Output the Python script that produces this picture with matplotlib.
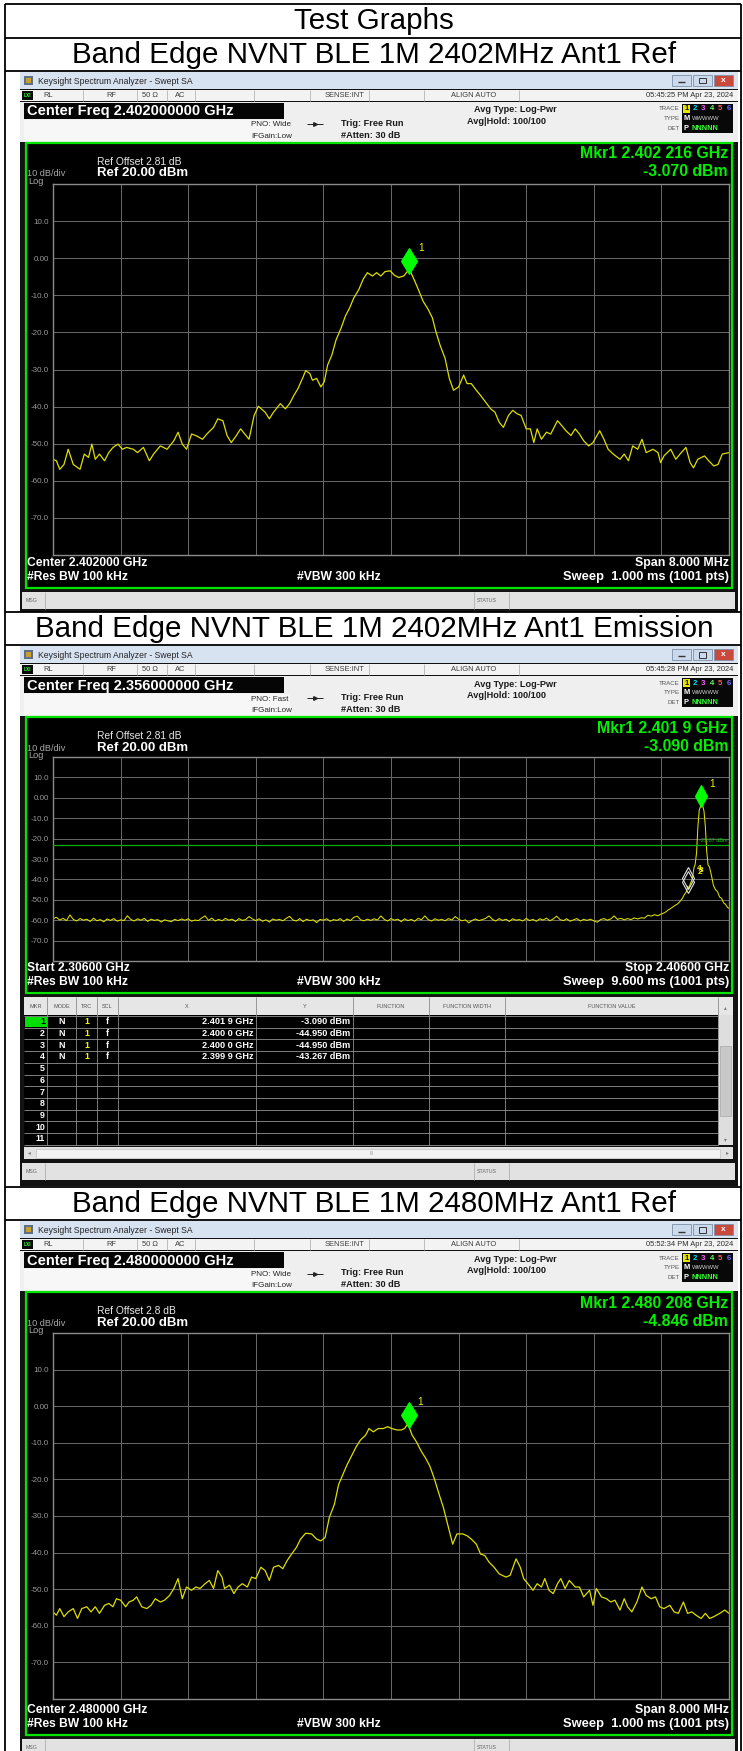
import numpy as np
import matplotlib
matplotlib.use("Agg")
import matplotlib.pyplot as plt
from matplotlib.patches import Rectangle
from matplotlib.transforms import offset_copy

plt.rcParams['font.family'] = ['Liberation Sans', 'DejaVu Sans']

# ---------------------------------------------------------------- data
table_title = "Test Graphs"
panel_titles = ["Band Edge NVNT BLE 1M 2402MHz Ant1 Ref",
                "Band Edge NVNT BLE 1M 2402MHz Ant1 Emission",
                "Band Edge NVNT BLE 1M 2480MHz Ant1 Ref"]

y_tick_values = [10, 0, -10, -20, -30, -40, -50, -60, -70]
y_tick_labels = ["10.0", "0.00", "-10.0", "-20.0", "-30.0", "-40.0", "-50.0", "-60.0", "-70.0"]
ref_level_dbm = 20.0
bottom_level_dbm = -80.0

timestamps = ["05:45:25 PM Apr 23, 2024", "05:45:28 PM Apr 23, 2024", "05:52:34 PM Apr 23, 2024"]
center_freq_labels = ["Center Freq 2.402000000 GHz", "Center Freq 2.356000000 GHz",
                      "Center Freq 2.480000000 GHz"]
pno_labels = ["PNO: Wide", "PNO: Fast", "PNO: Wide"]
ref_offset_labels = ["Ref Offset 2.81 dB", "Ref Offset 2.81 dB", "Ref Offset 2.8 dB"]
mkr_freq_labels = ["Mkr1 2.402 216 GHz", "Mkr1 2.401 9 GHz", "Mkr1 2.480 208 GHz"]
mkr_level_labels = ["-3.070 dBm", "-3.090 dBm", "-4.846 dBm"]
bottom_left_labels = ["Center 2.402000 GHz", "Start 2.30600 GHz", "Center 2.480000 GHz"]
bottom_right_labels = ["Span 8.000 MHz", "Stop 2.40600 GHz", "Span 8.000 MHz"]
sweep_labels = ["Sweep  1.000 ms (1001 pts)", "Sweep  9.600 ms (1001 pts)", "Sweep  1.000 ms (1001 pts)"]

# panel 1 : 2402 MHz reference sweep
p1_start_mhz, p1_stop_mhz = 2398.0, 2406.0
p1_freq_offset_mhz = [
    0.00, 0.04, 0.08, 0.13, 0.18, 0.24, 0.32, 0.37, 0.42, 0.46,
    0.50, 0.55, 0.61, 0.66, 0.71, 0.77, 0.82, 0.87, 0.95, 1.00,
    1.07, 1.14, 1.19, 1.27, 1.35, 1.43, 1.48, 1.53, 1.58, 1.64,
    1.69, 1.77, 1.82, 1.90, 1.95, 2.01, 2.06, 2.11, 2.17, 2.22,
    2.27, 2.32, 2.38, 2.43, 2.51, 2.56, 2.61, 2.69, 2.75, 2.80,
    2.85, 2.90, 2.96, 2.99, 3.04, 3.07, 3.12, 3.17, 3.21, 3.25,
    3.30, 3.35, 3.41, 3.46, 3.51, 3.56, 3.62, 3.67, 3.72, 3.78,
    3.83, 3.88, 3.93, 3.99, 4.04, 4.09, 4.15, 4.20, 4.22, 4.28,
    4.33, 4.38, 4.44, 4.49, 4.53, 4.58, 4.64, 4.69, 4.74, 4.80,
    4.86, 4.90, 4.95, 5.01, 5.06, 5.12, 5.18, 5.23, 5.28, 5.33,
    5.39, 5.44, 5.49, 5.54, 5.60, 5.65, 5.69, 5.73, 5.78, 5.84,
    5.89, 5.97, 6.02, 6.07, 6.13, 6.18, 6.23, 6.28, 6.34, 6.39,
    6.47, 6.52, 6.57, 6.63, 6.71, 6.76, 6.81, 6.86, 6.92, 6.97,
    7.02, 7.10, 7.16, 7.19, 7.23, 7.31, 7.37, 7.42, 7.49, 7.54,
    7.58, 7.63, 7.71, 7.76, 7.82, 7.87, 7.92, 8.00]
p1_level_dbm = [
    -54.2, -54.6, -56.9, -55.6, -51.5, -55.6, -56.9, -52.8, -53.7, -50.1,
    -54.2, -52.8, -54.6, -52.4, -51.0, -50.1, -51.5, -51.0, -51.5, -52.4,
    -51.0, -54.6, -52.8, -50.6, -51.5, -49.2, -46.9, -50.1, -51.5, -47.4,
    -47.8, -48.8, -47.4, -45.6, -43.3, -43.8, -47.8, -49.7, -47.8, -46.0,
    -47.4, -48.8, -42.4, -39.9, -41.5, -43.3, -41.5, -39.2, -40.6, -39.2,
    -37.0, -35.1, -32.0, -30.3, -31.1, -32.9, -32.4, -34.7, -33.3, -28.8,
    -26.1, -22.0, -18.8, -15.6, -13.4, -10.7, -8.4, -5.7, -3.9, -4.8,
    -3.9, -4.8, -3.6, -3.4, -4.6, -5.2, -4.8, -3.4, -3.1, -6.1,
    -8.8, -11.6, -13.8, -16.1, -19.7, -23.4, -27.0, -32.4, -35.6, -34.7,
    -31.5, -33.8, -33.8, -35.6, -37.0, -38.8, -40.6, -41.5, -44.2, -45.6,
    -42.4, -41.0, -41.9, -42.4, -46.0, -46.0, -49.7, -46.0, -48.8, -46.9,
    -47.4, -43.8, -45.1, -46.5, -47.8, -46.0, -47.4, -49.2, -50.6, -49.7,
    -46.5, -48.8, -51.5, -52.8, -54.2, -52.8, -54.6, -50.6, -51.5, -48.8,
    -52.4, -51.5, -52.4, -55.1, -53.3, -51.5, -54.2, -52.8, -51.0, -55.1,
    -56.5, -54.2, -53.3, -54.6, -56.0, -55.6, -52.8, -52.4]
p1_marker_mhz = 2402.216
p1_marker_dbm = -3.070

# panel 2 : emission sweep 2306 - 2406 MHz
p2_start_mhz, p2_stop_mhz = 2306.0, 2406.0
p2_floor_freq_mhz = [
    2306.0, 2306.5, 2307.0, 2307.5, 2308.0, 2308.5, 2309.0, 2309.5, 2310.0, 2310.5,
    2311.0, 2311.5, 2312.0, 2312.5, 2313.0, 2313.5, 2314.0, 2314.5, 2315.0, 2315.5,
    2316.0, 2316.5, 2317.0, 2317.5, 2318.0, 2318.5, 2319.0, 2319.5, 2320.0, 2320.5,
    2321.0, 2321.5, 2322.0, 2322.5, 2323.0, 2323.5, 2324.0, 2324.5, 2325.0, 2325.5,
    2326.0, 2326.5, 2327.0, 2327.5, 2328.0, 2328.5, 2329.0, 2329.5, 2330.0, 2330.5,
    2331.0, 2331.5, 2332.0, 2332.5, 2333.0, 2333.5, 2334.0, 2334.5, 2335.0, 2335.5,
    2336.0, 2336.5, 2337.0, 2337.5, 2338.0, 2338.5, 2339.0, 2339.5, 2340.0, 2340.5,
    2341.0, 2341.5, 2342.0, 2342.5, 2343.0, 2343.5, 2344.0, 2344.5, 2345.0, 2345.5,
    2346.0, 2346.5, 2347.0, 2347.5, 2348.0, 2348.5, 2349.0, 2349.5, 2350.0, 2350.5,
    2351.0, 2351.5, 2352.0, 2352.5, 2353.0, 2353.5, 2354.0, 2354.5, 2355.0, 2355.5,
    2356.0, 2356.5, 2357.0, 2357.5, 2358.0, 2358.5, 2359.0, 2359.5, 2360.0, 2360.5,
    2361.0, 2361.5, 2362.0, 2362.5, 2363.0, 2363.5, 2364.0, 2364.5, 2365.0, 2365.5,
    2366.0, 2366.5, 2367.0, 2367.5, 2368.0, 2368.5, 2369.0, 2369.5, 2370.0, 2370.5,
    2371.0, 2371.5, 2372.0, 2372.5, 2373.0, 2373.5, 2374.0, 2374.5, 2375.0, 2375.5,
    2376.0, 2376.5, 2377.0, 2377.5, 2378.0, 2378.5, 2379.0, 2379.5, 2380.0, 2380.5,
    2381.0, 2381.5, 2382.0, 2382.5, 2383.0, 2383.5, 2384.0, 2384.5, 2385.0, 2385.5,
    2386.0, 2386.5, 2387.0, 2387.5, 2388.0, 2388.5, 2389.0, 2389.5, 2390.0, 2390.5,
    2391.0, 2391.5, 2392.0, 2392.5, 2393.0, 2393.5, 2394.0]
p2_floor_dbm = [
    -59.3, -58.6, -59.9, -59.1, -60.2, -57.4, -59.6, -60.4, -59.2, -60.0,
    -59.5, -60.6, -59.0, -60.3, -59.7, -60.8, -59.4, -60.1, -59.2, -60.5,
    -59.8, -60.2, -57.8, -59.6, -60.4, -59.3, -60.0, -59.1, -60.6, -59.5,
    -60.1, -59.7, -60.9, -59.8, -60.3, -60.7, -59.6, -60.2, -59.4, -60.0,
    -59.3, -60.5, -59.9, -60.2, -58.9, -57.9, -60.1, -59.0, -60.4, -59.6,
    -60.3, -59.1, -60.0, -59.5, -60.6, -59.2, -60.1, -59.7, -58.2, -59.4,
    -60.2, -59.3, -60.5, -59.8, -60.9, -59.4, -60.0, -59.6, -60.3, -59.1,
    -58.1, -59.9, -60.4, -59.2, -60.7, -59.5, -60.2, -59.8, -61.2, -59.6,
    -60.0, -59.3, -60.5, -59.7, -60.1, -59.2, -60.6, -59.4, -60.2, -58.6,
    -58.0, -59.8, -60.3, -59.5, -60.1, -59.3, -59.9, -57.9, -59.6, -60.4,
    -59.2, -60.0, -59.5, -60.7, -59.3, -60.2, -59.6, -60.5, -59.1, -59.8,
    -57.9, -59.7, -60.4, -59.3, -60.0, -59.6, -60.3, -59.2, -59.9, -58.2,
    -59.5, -60.3, -59.8, -61.3, -60.1, -59.4, -60.2, -59.7, -59.1, -57.9,
    -59.6, -60.4, -59.2, -60.1, -59.5, -60.6, -59.3, -60.0, -59.7, -60.4,
    -59.1, -60.2, -59.6, -60.5, -59.3, -59.9, -59.0, -60.3, -59.4, -58.0,
    -59.7, -60.2, -59.3, -60.5, -59.8, -59.2, -60.4, -59.6, -60.1, -59.5,
    -60.3, -61.0, -59.7, -59.2, -60.0, -59.4, -57.9, -59.6, -59.1, -59.8,
    -59.2, -59.7, -58.9, -59.4, -58.8, -59.0, -57.6]
p2_edge_freq_mhz = [
    2394.5, 2395.0, 2395.5, 2396.0, 2396.5, 2397.0, 2397.4, 2397.9, 2398.4, 2398.7,
    2399.1, 2399.4, 2399.7, 2399.9, 2400.0, 2400.3, 2400.6, 2400.8, 2401.0, 2401.2,
    2401.4, 2401.6, 2401.9, 2402.1, 2402.3, 2402.5, 2402.7, 2402.9, 2403.1, 2403.4,
    2403.7, 2404.0, 2404.3, 2404.6, 2404.9, 2405.2, 2405.5, 2405.8, 2406.0]
p2_edge_dbm = [
    -58.0, -57.3, -57.8, -56.9, -56.3, -55.0, -54.2, -53.0, -52.0, -51.0,
    -49.3, -47.4, -46.0, -43.3, -44.95, -42.0, -39.5, -34.5, -32.5, -27.0,
    -14.0, -6.0, -3.09, -3.6, -6.5, -14.0, -26.0, -33.0, -33.8, -38.0,
    -43.0, -45.0, -46.0, -48.6, -49.3, -51.5, -52.3, -53.8, -54.2]
p2_marker_mhz = [2401.9, 2400.0, 2400.0, 2399.9]
p2_marker_dbm = [-3.090, -44.950, -44.950, -43.267]
p2_limit_dbm = -23.07

# panel 3 : 2480 MHz reference sweep
p3_start_mhz, p3_stop_mhz = 2476.0, 2484.0
p3_freq_offset_mhz = [
    0.00, 0.04, 0.08, 0.13, 0.18, 0.24, 0.29, 0.34, 0.40, 0.45,
    0.50, 0.55, 0.61, 0.66, 0.71, 0.75, 0.80, 0.86, 0.90, 0.95,
    0.99, 1.05, 1.11, 1.16, 1.21, 1.27, 1.32, 1.38, 1.43, 1.48,
    1.53, 1.58, 1.64, 1.69, 1.74, 1.80, 1.85, 1.90, 1.95, 2.00,
    2.03, 2.09, 2.14, 2.19, 2.24, 2.30, 2.35, 2.40, 2.46, 2.51,
    2.56, 2.61, 2.67, 2.72, 2.77, 2.82, 2.88, 2.93, 2.99, 3.06,
    3.12, 3.17, 3.22, 3.27, 3.33, 3.38, 3.43, 3.48, 3.54, 3.59,
    3.64, 3.70, 3.74, 3.79, 3.85, 3.91, 3.96, 4.01, 4.07, 4.12,
    4.16, 4.20, 4.25, 4.30, 4.36, 4.41, 4.46, 4.51, 4.57, 4.62,
    4.67, 4.73, 4.78, 4.85, 4.90, 4.95, 5.01, 5.06, 5.11, 5.16,
    5.22, 5.28, 5.36, 5.41, 5.48, 5.53, 5.57, 5.62, 5.68, 5.73,
    5.78, 5.82, 5.87, 5.92, 5.97, 6.01, 6.06, 6.11, 6.18, 6.23,
    6.28, 6.35, 6.39, 6.43, 6.49, 6.55, 6.60, 6.65, 6.71, 6.76,
    6.80, 6.85, 6.91, 6.97, 7.02, 7.08, 7.13, 7.18, 7.23, 7.30,
    7.35, 7.40, 7.46, 7.51, 7.56, 7.61, 7.67, 7.72, 7.77, 7.82,
    7.89, 7.95, 8.00]
p3_level_dbm = [
    -56.2, -57.1, -55.3, -57.5, -56.2, -55.3, -58.0, -55.3, -54.8, -56.2,
    -54.8, -56.6, -54.4, -53.9, -54.8, -52.6, -53.0, -54.8, -53.5, -53.0,
    -52.1, -54.8, -55.3, -54.4, -52.6, -53.5, -53.0, -51.7, -49.8, -47.1,
    -52.6, -49.4, -50.3, -49.4, -49.8, -48.5, -47.6, -49.8, -44.9, -46.7,
    -49.8, -48.9, -51.2, -49.4, -48.5, -49.4, -46.7, -47.1, -44.0, -44.9,
    -47.6, -44.0, -43.5, -44.4, -42.2, -40.5, -38.6, -36.3, -34.7, -34.9,
    -36.3, -36.8, -35.9, -30.4, -26.8, -21.4, -18.7, -16.0, -13.3, -11.0,
    -9.2, -7.9, -6.1, -7.0, -6.1, -6.1, -5.6, -6.1, -6.5, -6.5,
    -6.1, -4.8, -7.9, -9.7, -12.4, -14.2, -16.4, -19.6, -24.1, -27.7,
    -32.2, -37.7, -34.9, -34.9, -35.4, -36.3, -37.7, -40.4, -40.8, -42.6,
    -44.0, -45.8, -46.7, -46.2, -41.7, -44.0, -47.1, -48.5, -50.3, -48.5,
    -49.4, -47.1, -50.3, -51.2, -48.5, -47.1, -49.8, -47.6, -49.4, -49.4,
    -52.1, -50.3, -54.4, -49.8, -52.1, -52.6, -53.5, -53.0, -55.7, -52.6,
    -54.8, -56.2, -53.5, -49.4, -51.7, -52.6, -52.1, -54.8, -55.3, -54.4,
    -56.2, -56.6, -53.5, -56.6, -56.2, -57.1, -58.0, -56.6, -58.0, -57.5,
    -56.6, -55.7, -56.6]
p3_marker_mhz = 2480.208
p3_marker_dbm = -4.846

# marker table (panel 2)
mkr_table_headers = ["MKR", "MODE", "TRC", "SCL", "X", "Y", "FUNCTION", "FUNCTION WIDTH", "FUNCTION VALUE"]
mkr_modes = ["N", "N", "N", "N"]
mkr_traces = ["1", "1", "1", "1"]
mkr_scales = ["f", "f", "f", "f"]

# ---------------------------------------------------------------- canvas
W, H = 743, 1751
fig = plt.figure(figsize=(W / 100, H / 100), dpi=100)
fig.patch.set_facecolor('white')
bg = fig.add_axes([0, 0, 1, 1])
bg.set_xlim(0, W)
bg.set_ylim(H, 0)
bg.axis('off')

TRACE_C = '#dede00'
GRID_C = '#6a6a6a'
GREEN_C = '#00e400'


def rect(x0, y0, x1, y1, fc, ec='none', lw=0.0, z=1):
    bg.add_patch(Rectangle((x0, y0), x1 - x0, y1 - y0, facecolor=fc,
                           edgecolor=ec, linewidth=lw, zorder=z))


def hl(y, x0, x1, c, lw=0.8, z=3):
    bg.plot([x0, x1], [y, y], color=c, lw=lw, zorder=z, solid_capstyle='butt')


def vl(x, y0, y1, c, lw=0.8, z=3):
    bg.plot([x, x], [y0, y1], color=c, lw=lw, zorder=z, solid_capstyle='butt')


def tx(x, y, s, size, color='black', ha='left', va='center', weight='normal', z=6):
    bg.text(x, y, s, fontsize=size, color=color, ha=ha, va=va,
            fontweight=weight, zorder=z)


def frac(x0, y0, x1, y1):
    return [x0 / W, 1 - y1 / H, (x1 - x0) / W, (y1 - y0) / H]


# ---------------------------------------------------------------- table frame
TL, TR = 5, 741
for y in [4, 38, 71, 612, 645, 1187, 1220]:
    hl(y, TL, TR, 'black', 1.3, z=10)
vl(TL, 4, H, 'black', 1.3, z=10)
vl(TR, 4, H, 'black', 1.3, z=10)
tx(374, 21, table_title, 21.3, ha='center')
for yy, title in zip([55, 629, 1204], panel_titles):
    tx(374, yy, title, 21.3, ha='center')


# ---------------------------------------------------------------- analyzer screen
def screen(i, y0, green_top, grid_top, grid_bot, green_bot, scr_bot, start, stop):
    rect(20, y0, 738, scr_bot, '#121212', z=1)
    # window title bar
    rect(20, y0, 738, y0 + 17, '#d8e3f1', z=2)
    rect(24, y0 + 4, 33, y0 + 13, '#5e6f86', z=3)
    rect(26, y0 + 6, 31, y0 + 11, '#c8a030', z=4)
    tx(38, y0 + 9, "Keysight Spectrum Analyzer - Swept SA", 6.2, '#222222')
    for bx0, bx1, fc in [(672, 691, '#cbd9ec'), (693, 712, '#cbd9ec'), (714, 733, '#c9493c')]:
        rect(bx0, y0 + 3, bx1, y0 + 14, fc, ec='#7d8ea6', lw=0.6, z=3)
    hl(y0 + 10.5, 678, 685, '#333333', 1.0, z=4)
    rect(699, y0 + 6, 706, y0 + 11.5, 'none', ec='#333333', lw=0.7, z=4)
    tx(723.5, y0 + 8.8, "x", 6, 'white', ha='center', weight='bold')
    # status row
    rect(20, y0 + 18, 738, y0 + 29, '#f3f3f3', z=2)
    rect(22, y0 + 19, 33, y0 + 28, '#0a0a0a', z=3)
    tx(27.5, y0 + 23.5, "LXI", 3.4, '#30ff30', ha='center', weight='bold')
    for sx in [83, 137, 167, 195, 254, 310, 369, 424, 519]:
        vl(sx, y0 + 18, y0 + 29, '#b4b4b4', 0.6)
    for sx, s in [(43, "RL"), (106, "RF"), (142, "50 \u03a9"), (175, "AC"),
                  (325, "SENSE:INT"), (451, "ALIGN AUTO")]:
        tx(sx, y0 + 23.5, s, 5.4, '#3c3c3c')
    tx(733, y0 + 23.5, timestamps[i], 5.4, '#2c2c2c', ha='right')
    # settings area
    rect(20, y0 + 30, 738, y0 + 70, '#efefef', z=2)
    rect(24, y0 + 48, 290, y0 + 69, '#f7f7f7', z=2)
    rect(24, y0 + 31, 284, y0 + 47, '#050505', z=3)
    tx(27, y0 + 39.5, center_freq_labels[i], 10.5, 'white', weight='bold')
    tx(251, y0 + 53, pno_labels[i], 5.8, '#222222')
    tx(251, y0 + 64, "IFGain:Low", 5.8, '#222222')
    hl(y0 + 52.5, 307, 323, '#222222', 0.7)
    bg.plot([315], [y0 + 52.5], marker='>', ms=2.6, color='#222222', zorder=4)
    tx(341, y0 + 51, "Trig: Free Run", 6.6, '#1a1a1a', weight='bold')
    tx(341, y0 + 63, "#Atten: 30 dB", 6.6, '#1a1a1a', weight='bold')
    tx(474, y0 + 38, "Avg Type: Log-Pwr", 6.6, '#1a1a1a', weight='bold')
    tx(467, y0 + 49.5, "Avg|Hold: 100/100", 6.6, '#1a1a1a', weight='bold')
    tx(680, y0 + 37, "TRACE", 4.4, '#555555', ha='right')
    tx(680, y0 + 46, "TYPE", 4.4, '#555555', ha='right')
    tx(680, y0 + 56, "DET", 4.4, '#555555', ha='right')
    rect(682, y0 + 32, 733, y0 + 61, '#080808', z=3)
    rect(683, y0 + 33, 690, y0 + 41, '#e6e600', z=4)
    trace_cols = ['#111111', '#00e0f0', '#ff60ff', '#60ff60', '#ff5a5a', '#6a6aff']
    for k in range(6):
        tx(686.5 + k * 8.4, y0 + 37, str(k + 1), 5.6, trace_cols[k], ha='center', weight='bold')
    tx(684, y0 + 46, "M", 5.4, 'white', weight='bold')
    tx(692, y0 + 46, "WWWWW", 4.2, '#d0d0d0')
    tx(684, y0 + 56, "P", 5.4, 'white', weight='bold')
    tx(692, y0 + 56, "NNNNN", 5.4, '#30ff30', weight='bold')
    # green framed display
    rect(26, green_top, 732, green_bot, 'black', ec=GREEN_C, lw=1.6, z=3)
    tx(97, green_top + 19, ref_offset_labels[i], 7.4, '#e8e8e8')
    tx(97, green_top + 30.5, "Ref 20.00 dBm", 9.5, 'white', weight='bold')
    tx(27, green_top + 31, "10 dB/div", 6.6, '#a8a8a8')
    tx(28, green_top + 38.5, "Log", 6.6, '#a8a8a8')
    tx(728, green_top + 11, mkr_freq_labels[i], 11.4, '#00f000', ha='right', weight='bold')
    tx(728, green_top + 29, mkr_level_labels[i], 11.4, '#00f000', ha='right', weight='bold')
    tx(27, green_bot - 25, bottom_left_labels[i], 8.7, 'white', weight='bold')
    tx(27, green_bot - 11, "#Res BW 100 kHz", 8.7, 'white', weight='bold')
    tx(297, green_bot - 11, "#VBW 300 kHz", 8.7, 'white', weight='bold')
    tx(729, green_bot - 25, bottom_right_labels[i], 8.9, 'white', ha='right', weight='bold')
    tx(729, green_bot - 11, sweep_labels[i], 9.3, 'white', ha='right', weight='bold')

    ax = fig.add_axes(frac(53, grid_top, 729, grid_bot))
    ax.set_facecolor('black')
    ax.set_zorder(5)
    ax.set_xlim(start, stop)
    ax.set_ylim(bottom_level_dbm, ref_level_dbm)
    ax.set_xticks(np.linspace(start, stop, 11)[1:-1])
    ax.set_yticks(y_tick_values)
    ax.set_yticklabels(y_tick_labels)
    ax.grid(True, color=GRID_C, lw=0.7)
    ax.tick_params(length=0, labelbottom=False, labelsize=5.8, labelcolor='#9a9a9a', pad=3)
    for sp in ax.spines.values():
        sp.set_color('#8a8a8a')
        sp.set_linewidth(1.0)
    return ax


def msg_bar(ytop, ybot):
    rect(22, ytop, 735, ybot, '#e2e2e2', z=3)
    vl(45, ytop, ybot, '#b0b0b0', 0.6, z=4)
    vl(474, ytop, ybot, '#b0b0b0', 0.6, z=4)
    vl(509, ytop, ybot, '#b0b0b0', 0.6, z=4)
    tx(26, (ytop + ybot) / 2, "MSG", 3.8, '#666666')
    tx(477, (ytop + ybot) / 2, "STATUS", 3.8, '#666666')


def marker(ax, f, d, fc, ec, ms, label=None, lab_dx=6, lab_dy=17):
    tr = offset_copy(ax.transData, fig=fig, x=0, y=ms * 100 / 72 / 2, units='dots')
    ax.plot([f], [d], marker='d', ms=ms, color=fc, mec=ec, mew=0.8, transform=tr,
            zorder=6, clip_on=False)
    if label:
        ax.annotate(label, (f, d), xytext=(lab_dx * 72 / 100, lab_dy * 72 / 100),
                    textcoords='offset points', color='#f0f000', fontsize=7.4,
                    ha='left', va='center', zorder=7, annotation_clip=False)


# ---- panel 1
ax1 = screen(0, 72, 143, 184, 555, 588, 612, p1_start_mhz, p1_stop_mhz)
msg_bar(592, 609)
f1 = [p1_start_mhz + v for v in p1_freq_offset_mhz]
ax1.plot(f1, p1_level_dbm, color=TRACE_C, lw=0.9)
marker(ax1, p1_marker_mhz, p1_marker_dbm, '#00ff00', '#00ff00', 13, '1', 9, 22)

# ---- panel 2
ax2 = screen(1, 646, 717, 757, 961, 993, 1186, p2_start_mhz, p2_stop_mhz)
f2 = p2_floor_freq_mhz + p2_edge_freq_mhz
d2 = p2_floor_dbm + p2_edge_dbm
ax2.plot(f2, d2, color=TRACE_C, lw=0.75)
ax2.axhline(p2_limit_dbm, color='#00b000', lw=0.9, zorder=3)
ax2.annotate(f"{p2_limit_dbm:.2f} dBm", xy=(1, p2_limit_dbm), xycoords=('axes fraction', 'data'),
             xytext=(-1, 1.5), textcoords='offset points', ha='right', va='bottom',
             fontsize=4.0, color='#00c800')
marker(ax2, p2_marker_mhz[3], p2_marker_dbm[3], 'none', '#e0e0e0', 11)
marker(ax2, p2_marker_mhz[1], p2_marker_dbm[1], 'none', '#e0e0e0', 11)
marker(ax2, p2_marker_mhz[0], p2_marker_dbm[0], '#00ff00', '#00ff00', 11, '1', 8, 20)
for lab, dx, dy in [("2", 9, 17), ("3", 10, 19), ("4", 8, 21)]:
    ax2.annotate(lab, (p2_marker_mhz[1], p2_marker_dbm[1]), xytext=(dx * 0.72, dy * 0.72),
                 textcoords='offset points', color='#f0f000', fontsize=6.0, ha='left',
                 va='center', fontweight='bold')

# marker table
col_edges = [24, 47, 76, 97, 118, 256, 353, 429, 505, 718]
rect(22, 995, 735, 1146, '#141414', z=3)
rect(24, 997, 733, 1015, '#e6e6e6', z=4)
for j, h in enumerate(mkr_table_headers):
    tx((col_edges[j] + col_edges[j + 1]) / 2, 1006, h, 4.0, '#555555', ha='center')
rect(24, 1015, 718, 1145, 'black', z=4)
rect(718, 1015, 733, 1145, '#dedede', z=4)
rect(720, 1046, 731, 1116, '#c8c8c8', ec='#a8a8a8', lw=0.5, z=5)
tx(725.5, 1008, "\u25b4", 4, '#777777', ha='center')
tx(725.5, 1140, "\u25be", 4, '#777777', ha='center')
for x in col_edges[1:]:
    vl(x, 997, 1145, '#8c8c8c', 0.6, z=5)
row0, pitch = 1016.0, 11.7
for k in range(12):
    hl(row0 + k * pitch, 24, 718, '#a0a0a0', 0.55, z=5)
for k in range(11):
    yc = row0 + (k + 0.5) * pitch
    if k == 0:
        rect(25, row0 + 0.6, 46.5, row0 + pitch - 0.6, '#00e000', z=5)
        tx(45, yc, "1", 6.4, '#000000', ha='right', weight='bold')
    else:
        tx(45, yc, str(k + 1), 6.4, 'white', ha='right', weight='bold')
    if k < len(p2_marker_mhz):
        xs = f"{p2_marker_mhz[k] / 1000:.4f}"
        tx(61.5, yc, mkr_modes[k], 6.4, 'white', ha='center', weight='bold')
        tx(86.5, yc, mkr_traces[k], 6.4, '#f0f000', ha='center', weight='bold')
        tx(107.5, yc, mkr_scales[k], 6.4, 'white', ha='center', weight='bold')
        tx(254, yc, xs[:5] + " " + xs[5:] + " GHz", 6.6, 'white', ha='right', weight='bold')
        tx(350, yc, f"{p2_marker_dbm[k]:.3f} dBm", 6.6, 'white', ha='right', weight='bold')
rect(24, 1147, 733, 1159, '#e2e2e2', z=4)
rect(36, 1148.5, 720, 1157.5, '#f2f2f2', ec='#c0c0c0', lw=0.5, z=5)
tx(29, 1153, "\u25c2", 4, '#777777', ha='center')
tx(727, 1153, "\u25b8", 4, '#777777', ha='center')
tx(372, 1153, "III", 3.5, '#999999', ha='center')
msg_bar(1163, 1180)

# ---- panel 3
ax3 = screen(2, 1221, 1292, 1333, 1699, 1735, 1751, p3_start_mhz, p3_stop_mhz)
msg_bar(1739, 1756)
f3 = [p3_start_mhz + v for v in p3_freq_offset_mhz]
ax3.plot(f3, p3_level_dbm, color=TRACE_C, lw=0.9)
marker(ax3, p3_marker_mhz, p3_marker_dbm, '#00ff00', '#00ff00', 13, '1', 9, 22)

fig.savefig("out.png", dpi=100, facecolor='white')
